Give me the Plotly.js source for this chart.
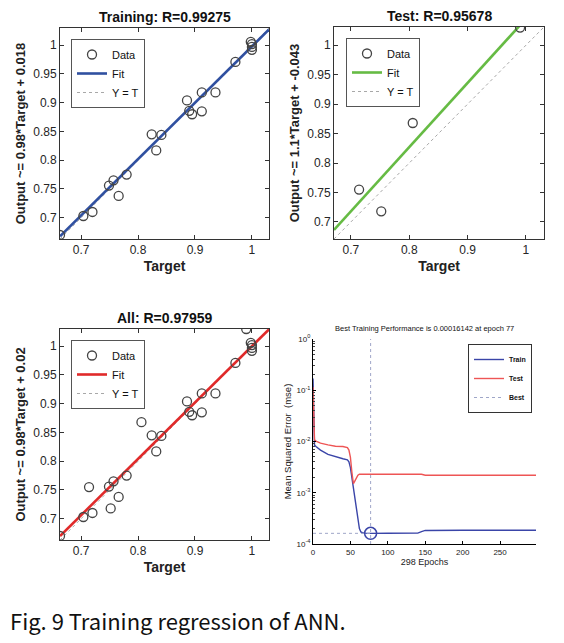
<!DOCTYPE html>
<html>
<head>
<meta charset="utf-8">
<script src="https://cdn.plot.ly/plotly-3.0.1.min.js"></script>
<style>html,body{margin:0;padding:0;background:#fff;}#chart{width:564px;height:643px;}</style>
</head>
<body>
<div id="chart"></div>
<script>
// ---------- data ----------
const trainTarget = [0.663, 0.704, 0.720, 0.749, 0.757, 0.766, 0.780, 0.824, 0.832, 0.841, 0.886, 0.890, 0.895, 0.912, 0.912, 0.936, 0.971, 0.998, 1.000, 1.000, 1.000];
const trainOutput = [0.670, 0.703, 0.710, 0.756, 0.765, 0.738, 0.775, 0.845, 0.817, 0.844, 0.904, 0.886, 0.880, 0.918, 0.885, 0.918, 0.971, 1.006, 1.002, 0.997, 0.992];
const testTarget = [0.714, 0.752, 0.806, 0.990];
const testOutput = [0.755, 0.718, 0.868, 1.030];
const allTarget = trainTarget.concat(testTarget);
const allOutput = trainOutput.concat(testOutput);

const trainFit = {slope: 0.98, intercept: 0.018};
const testFit = {slope: 1.09, intercept: -0.045};
const allFit = {slope: 0.98, intercept: 0.02};

const regXTicks = [0.7, 0.8, 0.9, 1];
const regXTickText = ['0.7', '0.8', '0.9', '1'];
const regYTicks = [0.7, 0.75, 0.8, 0.85, 0.9, 0.95, 1];
const regYTickText = ['0.7', '0.75', '0.8', '0.85', '0.9', '0.95', '1'];

const epochs   = [0, 1, 2, 4, 10, 20, 30, 40, 46, 48, 50, 52, 54, 56, 58, 60, 62, 64, 66, 70, 77, 100, 140, 145, 150, 200, 250, 298];
const trainMSE = [0.17, 0.0095, 0.0085, 0.0080, 0.0068, 0.0056, 0.0050, 0.0046, 0.0044, 0.0040, 0.0031, 0.0020, 0.0011, 0.00070, 0.00045, 0.00030, 0.00020, 0.000172, 0.000166, 0.000163, 0.00016142, 0.000162, 0.000163, 0.000175, 0.000184, 0.000185, 0.000185, 0.000185];
const testMSE  = [0.115, 0.0115, 0.0108, 0.0102, 0.0093, 0.0086, 0.0081, 0.0080, 0.0076, 0.0068, 0.0049, 0.0025, 0.0015, 0.0017, 0.0020, 0.0022, 0.0023, 0.0023, 0.00235, 0.00235, 0.00235, 0.00235, 0.00235, 0.0023, 0.0022, 0.0022, 0.0022, 0.0022];
const bestEpoch = 77;
const bestPerf = 0.00016142;
const perfYTicks = [0.0001, 0.001, 0.01, 0.1, 1];
const perfYTickText = ['10<sup>-4</sup>', '10<sup>-3</sup>', '10<sup>-2</sup>', '10<sup>-1</sup>', '10<sup>0</sup>'];
const perfXTicks = [0, 50, 100, 150, 200, 250];

const titles = ['Training: R=0.99275', 'Test: R=0.95678', 'All: R=0.97959', 'Best Training Performance is 0.00016142 at epoch 77'];
const yTitles = ['Output ~= 0.98*Target + 0.018', 'Output ~= 1.1*Target + -0.043', 'Output ~= 0.98*Target + 0.02', 'Mean Squared Error  (mse)'];
const caption = 'Fig. 9 Training regression of ANN.';

// ---------- layout helpers ----------
const W = 564, H = 643;
const xd = (a, b) => [a / W, b / W];
const yd = (top, bot) => [1 - bot / H, 1 - top / H];
const FONT = 'Liberation Sans, Arial, sans-serif';

const range1 = [0.663, 1.03];
const range2 = [0.671, 1.031];

function regTraces(t, o, fit, rng, color, xa, ya, lg) {
  return [
    {x: rng, y: rng, xaxis: xa, yaxis: ya, legend: lg, mode: 'lines', name: 'Y = T', legendrank: 3,
     line: {color: '#a8a8a8', width: 1, dash: 'dot'}, hoverinfo: 'skip'},
    {x: rng, y: rng.map(v => fit.slope * v + fit.intercept), xaxis: xa, yaxis: ya, legend: lg, mode: 'lines', name: 'Fit', legendrank: 2,
     line: {color: color, width: 2.6}},
    {x: t, y: o, xaxis: xa, yaxis: ya, legend: lg, mode: 'markers', name: 'Data', legendrank: 1,
     marker: {symbol: 'circle-open', size: 9, color: '#444', line: {width: 1.3, color: '#444'}}}
  ];
}

const traces = [].concat(
  regTraces(trainTarget, trainOutput, trainFit, range1, '#3050a0', 'x', 'y', 'legend'),
  regTraces(testTarget, testOutput, testFit, range2, '#66bb44', 'x2', 'y2', 'legend2'),
  regTraces(allTarget, allOutput, allFit, range1, '#e02a2a', 'x3', 'y3', 'legend3'),
  [
    {x: epochs, y: trainMSE, xaxis: 'x4', yaxis: 'y4', legend: 'legend4', mode: 'lines', name: 'Train', line: {color: '#3a45a8', width: 1.4}},
    {x: epochs, y: testMSE, xaxis: 'x4', yaxis: 'y4', legend: 'legend4', mode: 'lines', name: 'Test', line: {color: '#ee5555', width: 1.4}},
    {x: [0, bestEpoch], y: [bestPerf, bestPerf], xaxis: 'x4', yaxis: 'y4', legend: 'legend4', mode: 'lines', name: 'Best', line: {color: '#9fa6c8', width: 1, dash: 'dot'}},
    {x: [bestEpoch, bestEpoch], y: [perfYTicks[0], perfYTicks[perfYTicks.length - 1]], xaxis: 'x4', yaxis: 'y4', mode: 'lines', showlegend: false, line: {color: '#9fa6c8', width: 1, dash: 'dot'}},
    {x: [bestEpoch], y: [bestPerf], xaxis: 'x4', yaxis: 'y4', mode: 'markers', showlegend: false, marker: {symbol: 'circle-open', size: 12, color: '#3a45a8', line: {width: 1.5, color: '#3a45a8'}}}
  ]
);

function regX(dom, rng) {
  return {domain: dom, range: rng, tickvals: regXTicks, ticktext: regXTickText, ticks: 'inside', ticklen: 4, tickcolor: '#333',
          showline: true, mirror: 'ticks', linecolor: '#333', linewidth: 1, showgrid: false, zeroline: false,
          tickfont: {family: FONT, size: 12, color: '#262626'},
          title: {text: 'Target', font: {family: FONT, size: 14, weight: 'bold', color: '#222'}, standoff: 4}};
}
function regY(dom, rng, anchor, title) {
  return {domain: dom, range: rng, anchor: anchor, tickvals: regYTicks, ticktext: regYTickText, ticks: 'inside', ticklen: 4, tickcolor: '#333',
          showline: true, mirror: 'ticks', linecolor: '#333', linewidth: 1, showgrid: false, zeroline: false,
          tickfont: {family: FONT, size: 12, color: '#262626'},
          title: {text: title, font: {family: FONT, size: 13, weight: 'bold', color: '#222'}, standoff: 4}};
}
function regLegend(px, py) {
  return {x: px / W, y: 1 - py / H, xanchor: 'left', yanchor: 'top', bgcolor: '#fff', bordercolor: '#555', borderwidth: 1,
          font: {family: FONT, size: 11, color: '#111'}, itemwidth: 30, tracegroupgap: 0};
}

const d1x = xd(60, 269), d1y = yd(28, 239);
const d2x = xd(334, 544), d2y = yd(27, 239);
const d3x = xd(60, 269), d3y = yd(329, 540);
const d4x = xd(313, 536), d4y = yd(339, 544);

const layout = {
  width: W, height: H,
  margin: {l: 0, r: 0, t: 0, b: 0},
  paper_bgcolor: '#fff', plot_bgcolor: '#fff',
  font: {family: FONT, color: '#222'},
  xaxis: Object.assign(regX(d1x, range1), {anchor: 'y'}),
  yaxis: regY(d1y, range1, 'x', yTitles[0]),
  xaxis2: Object.assign(regX(d2x, range2), {anchor: 'y2'}),
  yaxis2: regY(d2y, range2, 'x2', yTitles[1]),
  xaxis3: Object.assign(regX(d3x, range1), {anchor: 'y3'}),
  yaxis3: regY(d3y, range1, 'x3', yTitles[2]),
  xaxis4: {domain: d4x, anchor: 'y4', range: [0, 298], tickvals: perfXTicks, ticks: 'inside', ticklen: 3, tickcolor: '#000',
           showline: true, linecolor: '#000', linewidth: 1, showgrid: false, zeroline: false,
           tickfont: {family: FONT, size: 8, color: '#222'},
           title: {text: '298 Epochs', font: {family: FONT, size: 9, color: '#222'}, standoff: 3}},
  yaxis4: {domain: d4y, anchor: 'x4', type: 'log', range: [-4, 0], tickvals: perfYTicks, ticktext: perfYTickText, ticks: 'inside', ticklen: 3, tickcolor: '#000',
           showline: true, linecolor: '#000', linewidth: 1, showgrid: false, zeroline: false,
           minor: {ticks: 'inside', ticklen: 2, tickcolor: '#444', dtick: 'D1'},
           tickfont: {family: FONT, size: 8, color: '#222'},
           title: {text: yTitles[3], font: {family: FONT, size: 9.5, color: '#222'}, standoff: 3}},
  legend: regLegend(71, 39),
  legend2: regLegend(346, 38),
  legend3: regLegend(71, 340),
  legend4: {x: 532 / W, y: 1 - 344 / H, xanchor: 'right', yanchor: 'top', bgcolor: '#fff', bordercolor: '#333', borderwidth: 1,
            font: {family: FONT, size: 7, weight: 'bold', color: '#111'}, itemwidth: 30, tracegroupgap: 0},
  annotations: [
    {text: titles[0], x: (d1x[0] + d1x[1]) / 2, y: 1 - 17 / H, xref: 'paper', yref: 'paper', showarrow: false, xanchor: 'center', yanchor: 'middle',
     font: {family: FONT, size: 14, weight: 'bold', color: '#111'}},
    {text: titles[1], x: (d2x[0] + d2x[1]) / 2, y: 1 - 16 / H, xref: 'paper', yref: 'paper', showarrow: false, xanchor: 'center', yanchor: 'middle',
     font: {family: FONT, size: 14, weight: 'bold', color: '#111'}},
    {text: titles[2], x: (d3x[0] + d3x[1]) / 2, y: 1 - 318 / H, xref: 'paper', yref: 'paper', showarrow: false, xanchor: 'center', yanchor: 'middle',
     font: {family: FONT, size: 14, weight: 'bold', color: '#111'}},
    {text: titles[3], x: (d4x[0] + d4x[1]) / 2, y: 1 - 328 / H, xref: 'paper', yref: 'paper', showarrow: false, xanchor: 'center', yanchor: 'middle',
     font: {family: FONT, size: 7.5, color: '#111'}},
    {text: caption, x: 8 / W, y: 1 - 620 / H, xref: 'paper', yref: 'paper', showarrow: false, xanchor: 'left', yanchor: 'middle',
     font: {family: 'Noto Sans CJK KR, Noto Sans, sans-serif', size: 22, color: '#111'}}
  ]
};

Plotly.newPlot('chart', traces, layout, {staticPlot: true, displayModeBar: false});
</script>
</body>
</html>
